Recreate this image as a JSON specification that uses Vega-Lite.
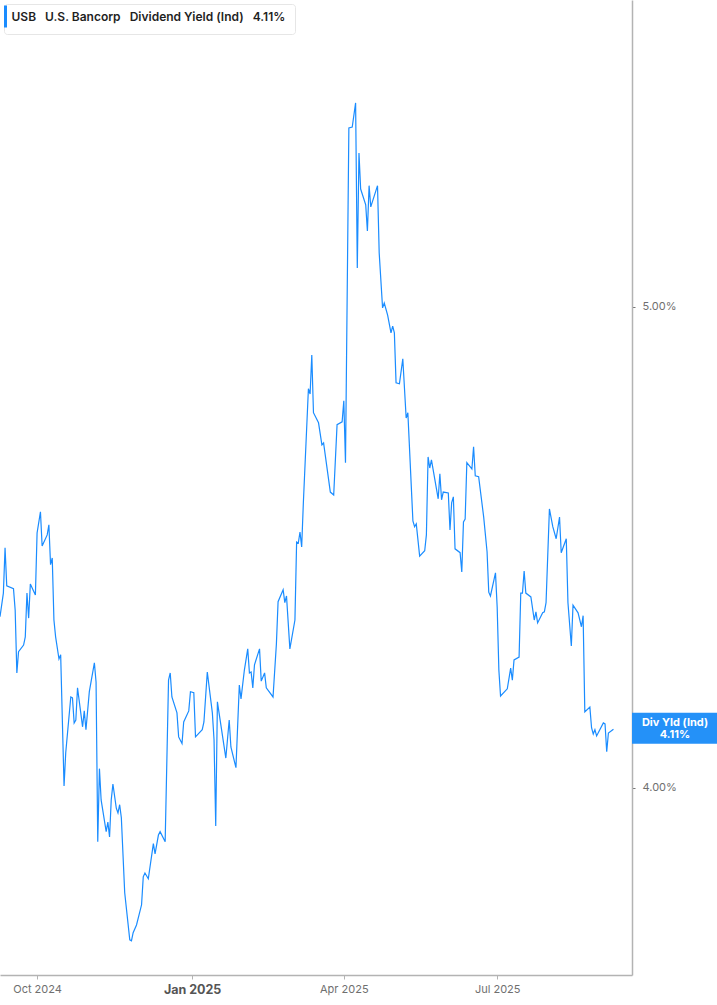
{
  "$schema": "https://vega.github.io/schema/vega-lite/v6.json",
  "width": 632,
  "height": 975,
  "autosize": {"type": "none"},
  "padding": {"left": 0, "top": 0, "right": 85, "bottom": 30},
  "background": "white",
  "config": {
    "view": {"stroke": null},
    "font": "Inter"
  },
  "layer": [
    {
      "data": {
        "values": [
          {"date": "2024-09-09", "yield": 4.356}, {"date": "2024-09-11", "yield": 4.405}, {"date": "2024-09-12", "yield": 4.499},
          {"date": "2024-09-13", "yield": 4.420}, {"date": "2024-09-17", "yield": 4.414}, {"date": "2024-09-18", "yield": 4.370},
          {"date": "2024-09-19", "yield": 4.239}, {"date": "2024-09-20", "yield": 4.283}, {"date": "2024-09-23", "yield": 4.297},
          {"date": "2024-09-24", "yield": 4.314}, {"date": "2024-09-25", "yield": 4.405}, {"date": "2024-09-26", "yield": 4.353},
          {"date": "2024-09-27", "yield": 4.424}, {"date": "2024-09-30", "yield": 4.401}, {"date": "2024-10-01", "yield": 4.530},
          {"date": "2024-10-03", "yield": 4.574}, {"date": "2024-10-04", "yield": 4.503}, {"date": "2024-10-07", "yield": 4.526},
          {"date": "2024-10-08", "yield": 4.547}, {"date": "2024-10-09", "yield": 4.464}, {"date": "2024-10-10", "yield": 4.478},
          {"date": "2024-10-11", "yield": 4.349}, {"date": "2024-10-12", "yield": 4.314}, {"date": "2024-10-14", "yield": 4.268},
          {"date": "2024-10-15", "yield": 4.277}, {"date": "2024-10-17", "yield": 4.004}, {"date": "2024-10-18", "yield": 4.073},
          {"date": "2024-10-21", "yield": 4.189}, {"date": "2024-10-22", "yield": 4.187}, {"date": "2024-10-23", "yield": 4.135},
          {"date": "2024-10-24", "yield": 4.141}, {"date": "2024-10-25", "yield": 4.208}, {"date": "2024-10-28", "yield": 4.127},
          {"date": "2024-10-29", "yield": 4.160}, {"date": "2024-10-30", "yield": 4.121}, {"date": "2024-11-01", "yield": 4.200},
          {"date": "2024-11-04", "yield": 4.260}, {"date": "2024-11-05", "yield": 4.220}, {"date": "2024-11-06", "yield": 3.888},
          {"date": "2024-11-07", "yield": 4.040}, {"date": "2024-11-08", "yield": 3.975}, {"date": "2024-11-11", "yield": 3.909},
          {"date": "2024-11-12", "yield": 3.929}, {"date": "2024-11-13", "yield": 3.898}, {"date": "2024-11-14", "yield": 3.975},
          {"date": "2024-11-15", "yield": 4.008}, {"date": "2024-11-17", "yield": 3.958}, {"date": "2024-11-18", "yield": 3.948},
          {"date": "2024-11-19", "yield": 3.965}, {"date": "2024-11-20", "yield": 3.938}, {"date": "2024-11-22", "yield": 3.782},
          {"date": "2024-11-25", "yield": 3.684}, {"date": "2024-11-26", "yield": 3.682}, {"date": "2024-11-27", "yield": 3.699},
          {"date": "2024-11-29", "yield": 3.715}, {"date": "2024-12-02", "yield": 3.757}, {"date": "2024-12-03", "yield": 3.815},
          {"date": "2024-12-04", "yield": 3.823}, {"date": "2024-12-06", "yield": 3.811}, {"date": "2024-12-09", "yield": 3.884},
          {"date": "2024-12-10", "yield": 3.863}, {"date": "2024-12-12", "yield": 3.902}, {"date": "2024-12-13", "yield": 3.909},
          {"date": "2024-12-16", "yield": 3.888}, {"date": "2024-12-18", "yield": 4.224}, {"date": "2024-12-19", "yield": 4.239},
          {"date": "2024-12-20", "yield": 4.189}, {"date": "2024-12-23", "yield": 4.156}, {"date": "2024-12-24", "yield": 4.106},
          {"date": "2024-12-26", "yield": 4.092}, {"date": "2024-12-27", "yield": 4.137}, {"date": "2024-12-30", "yield": 4.160},
          {"date": "2024-12-31", "yield": 4.200}, {"date": "2025-01-02", "yield": 4.198}, {"date": "2025-01-03", "yield": 4.106},
          {"date": "2025-01-07", "yield": 4.121}, {"date": "2025-01-08", "yield": 4.137}, {"date": "2025-01-10", "yield": 4.241},
          {"date": "2025-01-13", "yield": 4.156}, {"date": "2025-01-14", "yield": 4.100}, {"date": "2025-01-15", "yield": 3.921},
          {"date": "2025-01-16", "yield": 4.179}, {"date": "2025-01-21", "yield": 4.062}, {"date": "2025-01-23", "yield": 4.141},
          {"date": "2025-01-24", "yield": 4.085}, {"date": "2025-01-27", "yield": 4.042}, {"date": "2025-01-29", "yield": 4.214},
          {"date": "2025-01-30", "yield": 4.185}, {"date": "2025-02-01", "yield": 4.245}, {"date": "2025-02-03", "yield": 4.289},
          {"date": "2025-02-04", "yield": 4.239}, {"date": "2025-02-05", "yield": 4.241}, {"date": "2025-02-06", "yield": 4.208},
          {"date": "2025-02-07", "yield": 4.256}, {"date": "2025-02-10", "yield": 4.289}, {"date": "2025-02-11", "yield": 4.222},
          {"date": "2025-02-13", "yield": 4.239}, {"date": "2025-02-14", "yield": 4.208}, {"date": "2025-02-18", "yield": 4.189},
          {"date": "2025-02-20", "yield": 4.299}, {"date": "2025-02-21", "yield": 4.387}, {"date": "2025-02-24", "yield": 4.412},
          {"date": "2025-02-25", "yield": 4.385}, {"date": "2025-02-26", "yield": 4.399}, {"date": "2025-02-28", "yield": 4.289},
          {"date": "2025-03-03", "yield": 4.349}, {"date": "2025-03-04", "yield": 4.511}, {"date": "2025-03-05", "yield": 4.509},
          {"date": "2025-03-06", "yield": 4.532}, {"date": "2025-03-07", "yield": 4.501}, {"date": "2025-03-08", "yield": 4.593},
          {"date": "2025-03-11", "yield": 4.830}, {"date": "2025-03-12", "yield": 4.819}, {"date": "2025-03-13", "yield": 4.900},
          {"date": "2025-03-14", "yield": 4.780}, {"date": "2025-03-17", "yield": 4.759}, {"date": "2025-03-19", "yield": 4.713},
          {"date": "2025-03-20", "yield": 4.717}, {"date": "2025-03-24", "yield": 4.615}, {"date": "2025-03-26", "yield": 4.609},
          {"date": "2025-03-28", "yield": 4.755}, {"date": "2025-03-31", "yield": 4.761}, {"date": "2025-04-01", "yield": 4.805},
          {"date": "2025-04-02", "yield": 4.676}, {"date": "2025-04-04", "yield": 5.372}, {"date": "2025-04-06", "yield": 5.374},
          {"date": "2025-04-08", "yield": 5.424}, {"date": "2025-04-09", "yield": 5.081}, {"date": "2025-04-10", "yield": 5.320},
          {"date": "2025-04-11", "yield": 5.245}, {"date": "2025-04-14", "yield": 5.212}, {"date": "2025-04-15", "yield": 5.158},
          {"date": "2025-04-16", "yield": 5.252}, {"date": "2025-04-17", "yield": 5.208}, {"date": "2025-04-21", "yield": 5.252},
          {"date": "2025-04-22", "yield": 5.112}, {"date": "2025-04-24", "yield": 4.998}, {"date": "2025-04-25", "yield": 5.008},
          {"date": "2025-04-27", "yield": 4.983}, {"date": "2025-04-29", "yield": 4.946}, {"date": "2025-04-30", "yield": 4.960},
          {"date": "2025-05-01", "yield": 4.946}, {"date": "2025-05-02", "yield": 4.842}, {"date": "2025-05-04", "yield": 4.840},
          {"date": "2025-05-06", "yield": 4.892}, {"date": "2025-05-08", "yield": 4.769}, {"date": "2025-05-09", "yield": 4.780},
          {"date": "2025-05-12", "yield": 4.555}, {"date": "2025-05-13", "yield": 4.543}, {"date": "2025-05-14", "yield": 4.549},
          {"date": "2025-05-16", "yield": 4.482}, {"date": "2025-05-19", "yield": 4.493}, {"date": "2025-05-20", "yield": 4.526},
          {"date": "2025-05-21", "yield": 4.688}, {"date": "2025-05-22", "yield": 4.665}, {"date": "2025-05-23", "yield": 4.682},
          {"date": "2025-05-27", "yield": 4.601}, {"date": "2025-05-28", "yield": 4.653}, {"date": "2025-05-29", "yield": 4.599},
          {"date": "2025-05-30", "yield": 4.615}, {"date": "2025-06-02", "yield": 4.613}, {"date": "2025-06-03", "yield": 4.536},
          {"date": "2025-06-04", "yield": 4.593}, {"date": "2025-06-05", "yield": 4.605}, {"date": "2025-06-06", "yield": 4.497},
          {"date": "2025-06-09", "yield": 4.489}, {"date": "2025-06-10", "yield": 4.449}, {"date": "2025-06-11", "yield": 4.553},
          {"date": "2025-06-12", "yield": 4.559}, {"date": "2025-06-13", "yield": 4.676}, {"date": "2025-06-16", "yield": 4.663},
          {"date": "2025-06-17", "yield": 4.709}, {"date": "2025-06-18", "yield": 4.649}, {"date": "2025-06-20", "yield": 4.647},
          {"date": "2025-06-23", "yield": 4.563}, {"date": "2025-06-25", "yield": 4.491}, {"date": "2025-06-26", "yield": 4.407},
          {"date": "2025-06-27", "yield": 4.399}, {"date": "2025-06-30", "yield": 4.447}, {"date": "2025-07-01", "yield": 4.376},
          {"date": "2025-07-02", "yield": 4.245}, {"date": "2025-07-03", "yield": 4.191}, {"date": "2025-07-07", "yield": 4.206},
          {"date": "2025-07-09", "yield": 4.249}, {"date": "2025-07-10", "yield": 4.224}, {"date": "2025-07-11", "yield": 4.266},
          {"date": "2025-07-14", "yield": 4.272}, {"date": "2025-07-15", "yield": 4.405}, {"date": "2025-07-16", "yield": 4.405},
          {"date": "2025-07-17", "yield": 4.451}, {"date": "2025-07-18", "yield": 4.405}, {"date": "2025-07-21", "yield": 4.397},
          {"date": "2025-07-23", "yield": 4.349}, {"date": "2025-07-24", "yield": 4.366}, {"date": "2025-07-25", "yield": 4.343},
          {"date": "2025-07-28", "yield": 4.364}, {"date": "2025-07-29", "yield": 4.366}, {"date": "2025-07-30", "yield": 4.385},
          {"date": "2025-08-01", "yield": 4.580}, {"date": "2025-08-03", "yield": 4.543}, {"date": "2025-08-05", "yield": 4.518},
          {"date": "2025-08-07", "yield": 4.563}, {"date": "2025-08-08", "yield": 4.489}, {"date": "2025-08-11", "yield": 4.518},
          {"date": "2025-08-12", "yield": 4.385}, {"date": "2025-08-14", "yield": 4.295}, {"date": "2025-08-15", "yield": 4.380},
          {"date": "2025-08-18", "yield": 4.364}, {"date": "2025-08-20", "yield": 4.335}, {"date": "2025-08-21", "yield": 4.358},
          {"date": "2025-08-22", "yield": 4.158}, {"date": "2025-08-25", "yield": 4.168}, {"date": "2025-08-26", "yield": 4.125},
          {"date": "2025-08-27", "yield": 4.112}, {"date": "2025-08-28", "yield": 4.121}, {"date": "2025-08-29", "yield": 4.108},
          {"date": "2025-09-02", "yield": 4.135}, {"date": "2025-09-03", "yield": 4.133}, {"date": "2025-09-04", "yield": 4.075},
          {"date": "2025-09-05", "yield": 4.114}, {"date": "2025-09-08", "yield": 4.122}
        ]
      },
      "mark": {"type": "line", "strokeWidth": 1.2, "interpolate": "linear"},
      "encoding": {
        "x": {
          "field": "date",
          "type": "temporal",
          "scale": {
            "type": "utc",
            "domain": [
              {"year": 2024, "month": 9, "date": 9, "utc": true},
              {"year": 2025, "month": 9, "date": 19, "utc": true}
            ]
          },
          "axis": {
            "title": null,
            "grid": false,
            "values": [
              {"year": 2024, "month": 10, "date": 1, "utc": true},
              {"year": 2025, "month": 1, "date": 1, "utc": true},
              {"year": 2025, "month": 4, "date": 1, "utc": true},
              {"year": 2025, "month": 7, "date": 1, "utc": true}
            ],
            "format": "%b %Y",
            "domainColor": "#b3b3b3",
            "domainWidth": 1.5,
            "tickColor": "#b3b3b3",
            "tickSize": 4,
            "labelPadding": 4,
            "labelFont": "Inter",
            "labelFontSize": {"condition": {"test": "utcmonth(datum.value) == 0", "value": 12.5}, "value": 11},
            "labelFontWeight": {"condition": {"test": "utcmonth(datum.value) == 0", "value": "bold"}, "value": "normal"},
            "labelColor": {"condition": {"test": "utcmonth(datum.value) == 0", "value": "#555555"}, "value": "#6f6f6f"}
          }
        },
        "y": {
          "field": "yield",
          "type": "quantitative",
          "scale": {"domain": [3.611, 5.638], "nice": false, "zero": false},
          "axis": {
            "orient": "right",
            "title": null,
            "grid": false,
            "values": [4, 5],
            "labelExpr": "format(datum.value, '.2f') + '%'",
            "domainColor": "#b3b3b3",
            "domainWidth": 1.5,
            "tickColor": "#777777",
            "tickSize": 3,
            "labelPadding": 7,
            "labelFont": "Inter",
            "labelFontSize": 11,
            "labelColor": "#6f6f6f"
          }
        },
        "color": {
          "datum": "USB\u00a0\u00a0\u00a0U.S. Bancorp\u00a0\u00a0\u00a0Dividend Yield (Ind)\u00a0\u00a0\u00a04.11%\u2800",
          "type": "nominal",
          "scale": {"range": ["#1a8cff"]},
          "legend": {
            "title": null,
            "orient": "top-left",
            "offset": 4,
            "padding": 0,
            "fillColor": "white",
            "strokeColor": "#e6e6e6",
            "cornerRadius": 3,
            "symbolType": "M0,-1V1",
            "symbolSize": 484,
            "symbolStrokeWidth": 3,
            "symbolStrokeCap": "square",
            "symbolOffset": -11,
            "labelOffset": -6.5,
            "labelFont": "Inter",
            "labelFontSize": 12,
            "labelFontWeight": 600,
            "labelColor": "#1f1f1f",
            "labelLimit": 400
          }
        }
      }
    },
    {
      "data": {"values": [{"label": "Div Yld (Ind)\n4.11%", "yield": 4.11}]},
      "mark": {
        "type": "point",
        "shape": "M0,-0.262H1V0.102H0Z",
        "size": 28900,
        "filled": true,
        "color": "#2491f8",
        "opacity": 1
      },
      "encoding": {
        "x": {"value": "width"},
        "y": {"field": "yield", "type": "quantitative"}
      }
    },
    {
      "data": {"values": [{"label": "Div Yld (Ind)\n4.11%", "yield": 4.11}]},
      "mark": {
        "type": "text",
        "lineBreak": "\n",
        "align": "center",
        "baseline": "middle",
        "dx": 43,
        "dy": -12,
        "font": "Inter",
        "fontSize": 11,
        "fontWeight": "bold",
        "color": "white",
        "lineHeight": 12
      },
      "encoding": {
        "x": {"value": "width"},
        "y": {"field": "yield", "type": "quantitative"},
        "text": {"field": "label"}
      }
    }
  ]
}
